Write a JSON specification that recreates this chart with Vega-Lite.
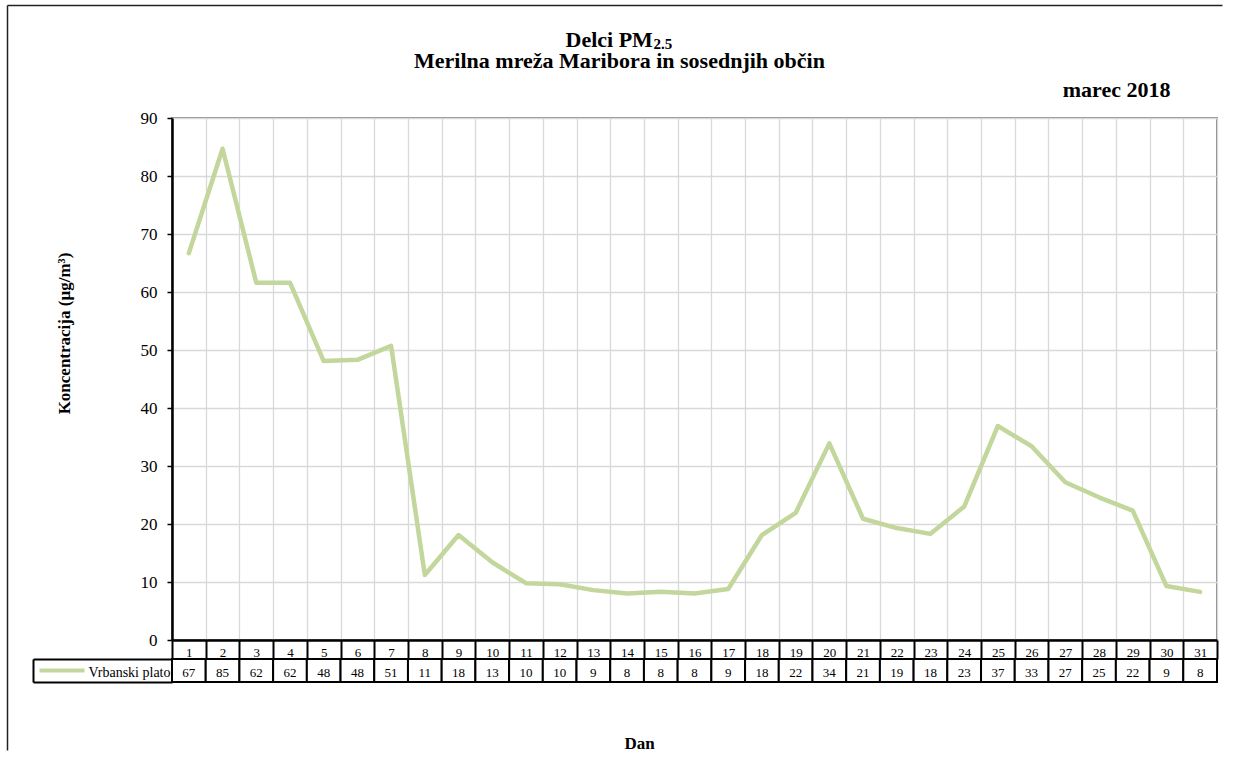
{
  "$schema": "https://vega.github.io/schema/vega-lite/v6.json",
  "padding": {"left": 5, "top": 3, "right": 0, "bottom": 0},
  "background": "white",
  "config": {
    "font": "Liberation Serif",
    "view": {"stroke": "#8c8c8c", "strokeWidth": 2}
  },
  "datasets": {
    "pm": [
      {"dan": 1, "konc": 66.7, "serija": "Vrbanski plato"},
      {"dan": 2, "konc": 84.7, "serija": "Vrbanski plato"},
      {"dan": 3, "konc": 61.6, "serija": "Vrbanski plato"},
      {"dan": 4, "konc": 61.6, "serija": "Vrbanski plato"},
      {"dan": 5, "konc": 48.1, "serija": "Vrbanski plato"},
      {"dan": 6, "konc": 48.3, "serija": "Vrbanski plato"},
      {"dan": 7, "konc": 50.7, "serija": "Vrbanski plato"},
      {"dan": 8, "konc": 11.2, "serija": "Vrbanski plato"},
      {"dan": 9, "konc": 18.1, "serija": "Vrbanski plato"},
      {"dan": 10, "konc": 13.4, "serija": "Vrbanski plato"},
      {"dan": 11, "konc": 9.8, "serija": "Vrbanski plato"},
      {"dan": 12, "konc": 9.6, "serija": "Vrbanski plato"},
      {"dan": 13, "konc": 8.6, "serija": "Vrbanski plato"},
      {"dan": 14, "konc": 8.0, "serija": "Vrbanski plato"},
      {"dan": 15, "konc": 8.3, "serija": "Vrbanski plato"},
      {"dan": 16, "konc": 8.0, "serija": "Vrbanski plato"},
      {"dan": 17, "konc": 8.8, "serija": "Vrbanski plato"},
      {"dan": 18, "konc": 18.1, "serija": "Vrbanski plato"},
      {"dan": 19, "konc": 21.9, "serija": "Vrbanski plato"},
      {"dan": 20, "konc": 33.9, "serija": "Vrbanski plato"},
      {"dan": 21, "konc": 20.9, "serija": "Vrbanski plato"},
      {"dan": 22, "konc": 19.3, "serija": "Vrbanski plato"},
      {"dan": 23, "konc": 18.3, "serija": "Vrbanski plato"},
      {"dan": 24, "konc": 23.0, "serija": "Vrbanski plato"},
      {"dan": 25, "konc": 36.9, "serija": "Vrbanski plato"},
      {"dan": 26, "konc": 33.4, "serija": "Vrbanski plato"},
      {"dan": 27, "konc": 27.2, "serija": "Vrbanski plato"},
      {"dan": 28, "konc": 24.6, "serija": "Vrbanski plato"},
      {"dan": 29, "konc": 22.3, "serija": "Vrbanski plato"},
      {"dan": 30, "konc": 9.3, "serija": "Vrbanski plato"},
      {"dan": 31, "konc": 8.3, "serija": "Vrbanski plato"}
    ]
  },
  "data": {"name": "pm"},
  "bounds": "flush",
  "spacing": 19,
  "vconcat": [
    {
      "width": 1045,
      "height": 522,
      "layer": [
        {
          "mark": {"type": "line", "color": "#c3d69b", "strokeWidth": 4.5, "strokeCap": "round", "strokeJoin": "round"},
          "encoding": {
            "x": {
              "field": "dan", "type": "ordinal", "bandPosition": 0.5,
              "scale": {"type": "band", "paddingInner": 0, "paddingOuter": 0},
              "axis": {
                "orient": "bottom", "tickBand": "extent",
                "grid": true, "gridColor": "#d9d9d9", "gridWidth": 1.3,
                "domainColor": "black", "domainWidth": 2.5,
                "tickColor": "black", "tickWidth": 2, "tickSize": 19,
                "labelFontSize": 13, "labelColor": "black", "labelPadding": -13,
                "labelAngle": 0, "labelFont": "Liberation Serif",
                "title": "Merilna mreža Maribora in sosednjih občin",
                "titleFont": "Liberation Serif",
                "titleFontSize": 22, "titleFontWeight": "bold", "titleColor": "black",
                "titleX": 447, "titleY": -572.5, "titleAlign": "center", "titleBaseline": "alphabetic"
              }
            },
            "y": {
              "field": "konc", "type": "quantitative",
              "scale": {"domain": [0, 90], "nice": false},
              "axis": {
                "orient": "left",
                "values": [0, 10, 20, 30, 40, 50, 60, 70, 80, 90],
                "grid": true, "gridColor": "#d9d9d9", "gridWidth": 1.3,
                "domainColor": "black", "domainWidth": 2.5,
                "tickColor": "black", "tickWidth": 1.5, "tickSize": 5,
                "labelFontSize": 17, "labelColor": "black", "labelPadding": 10,
                "labelFont": "Liberation Serif",
                "title": "Koncentracija  (µg/m³)",
                "titleFont": "Liberation Serif",
                "titleFontSize": 17, "titleFontWeight": "bold", "titleColor": "black",
                "titleX": -108, "titleY": 215, "titleAngle": -90,
                "titleAlign": "center", "titleBaseline": "middle"
              }
            }
          }
        },
        {
          "mark": {"type": "line", "opacity": 0},
          "encoding": {
            "x": {
              "field": "dan", "type": "ordinal", "bandPosition": 0.5,
              "axis": {
                "orient": "top", "labels": false, "ticks": false, "domain": false, "grid": false,
                "title": "marec 2018",
                "titleFont": "Liberation Serif",
                "titleFontSize": 22, "titleFontWeight": "bold", "titleColor": "black",
                "titleX": 998, "titleY": -22, "titleAlign": "right", "titleBaseline": "alphabetic"
              }
            },
            "y": {"field": "konc", "type": "quantitative", "axis": null}
          }
        },
        {
          "mark": {"type": "line", "opacity": 0},
          "encoding": {
            "x": {
              "field": "dan", "type": "ordinal", "bandPosition": 0.5,
              "axis": {
                "orient": "top", "offset": 113, "values": [1], "bandPosition": 0,
                "labels": false, "grid": false, "domain": false,
                "ticks": true, "tickColor": "#222222", "tickWidth": 1.5, "tickSize": -745, "tickOffset": -165,
                "title": "Delci PM",
                "titleFont": "Liberation Serif",
                "titleFontSize": 22, "titleFontWeight": "bold", "titleColor": "black",
                "titleX": 393, "titleY": 41, "titleAlign": "left", "titleBaseline": "alphabetic"
              }
            },
            "y": {
              "field": "konc", "type": "quantitative",
              "axis": {
                "orient": "left", "offset": 165, "values": [90],
                "labels": false, "grid": false, "domain": false,
                "ticks": true, "tickColor": "#222222", "tickWidth": 1.5, "tickSize": -1215, "tickOffset": -113,
                "title": "2.5",
                "titleFont": "Liberation Serif",
                "titleFontSize": 15, "titleFontWeight": "bold", "titleColor": "black",
                "titleX": 646, "titleY": -69.5, "titleAngle": 0, "titleAlign": "left", "titleBaseline": "alphabetic"
              }
            }
          }
        }
      ],
      "resolve": {"axis": {"x": "independent", "y": "independent"}}
    },
    {
      "width": 1045,
      "height": 23,
      "view": {"stroke": null},
      "layer": [
        {
          "mark": {"type": "rect", "fill": "white", "stroke": "black", "strokeWidth": 2},
          "encoding": {
            "x": {
              "field": "dan", "type": "ordinal",
              "scale": {"type": "band", "paddingInner": 0, "paddingOuter": 0},
              "axis": {
                "labels": false, "ticks": false, "domain": false, "grid": false,
                "title": "Dan",
                "titleFont": "Liberation Serif",
                "titleFontSize": 17, "titleFontWeight": "bold", "titleColor": "black",
                "titleX": 467, "titleY": 66, "titleAlign": "center", "titleBaseline": "alphabetic"
              }
            },
            "y": {
              "field": "serija", "type": "nominal",
              "scale": {"type": "band", "paddingInner": 0, "paddingOuter": 0},
              "axis": {
                "orient": "left", "offset": 139, "title": null,
                "domain": true, "domainColor": "black", "domainWidth": 2,
                "tickBand": "extent", "ticks": true, "tickColor": "black", "tickWidth": 2, "tickSize": -139,
                "labels": true, "labelFontSize": 14, "labelColor": "black", "labelPadding": 2,
                "labelFont": "Liberation Serif", "labelOffset": 2, "grid": false
              }
            }
          }
        },
        {
          "mark": {"type": "text", "fontSize": 13, "color": "black", "font": "Liberation Serif", "dy": 2},
          "encoding": {
            "x": {"field": "dan", "type": "ordinal", "bandPosition": 0.5},
            "y": {
              "field": "serija", "type": "nominal", "bandPosition": 0.5,
              "axis": {
                "orient": "left", "offset": 88, "title": null,
                "domain": false, "labels": false, "grid": false,
                "ticks": true, "tickBand": "center", "tickColor": "#c3d69b", "tickWidth": 4, "tickSize": 45
              }
            },
            "text": {"field": "konc", "type": "quantitative", "format": ".0f"}
          }
        }
      ],
      "resolve": {"axis": {"y": "independent"}}
    }
  ]
}
